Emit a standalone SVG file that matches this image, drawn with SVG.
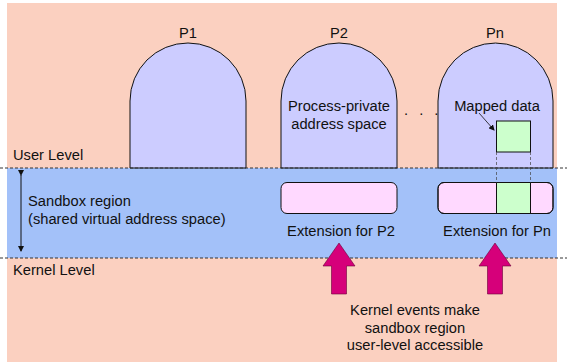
<svg xmlns="http://www.w3.org/2000/svg" width="567" height="364" viewBox="0 0 567 364">
<style>
text{font-family:"Liberation Sans",Arial,sans-serif;font-size:14.7px;fill:#111}
.dome{fill:#ccccff;stroke:#111;stroke-width:1}
.ext{fill:#ffd9ff;stroke:#111;stroke-width:1}
.grn{fill:#ccffcc;stroke:#111;stroke-width:1}
.dash{stroke:#333;stroke-width:1;stroke-dasharray:3,2;fill:none}
.thin{stroke:#444;stroke-width:0.7;stroke-dasharray:3,2;fill:none}
.big{fill:#d6007a;stroke:#6a0038;stroke-width:0.6}
</style>
<defs>
<marker id="ah" markerWidth="6" markerHeight="6" refX="5" refY="3" orient="auto" markerUnits="userSpaceOnUse"><path d="M0,0 L6,3 L0,6 z" fill="#111"/></marker>
</defs>
<rect x="7" y="3" width="550" height="359" fill="#fbd0c0"/>
<rect x="7" y="168" width="550" height="90" fill="#a3c1f9"/>
<text x="13" y="160">User Level</text>
<text x="13" y="275">Kernel Level</text>
<text x="28" y="206">Sandbox region</text>
<text x="28" y="224">(shared virtual address space)</text>
<g id="p1"><path class="dome" d="M130,168 V101 A58,58 0 0 1 246,101 V168 Z"/><text x="188" y="38" text-anchor="middle">P1</text></g>
<g id="p2"><path class="dome" d="M281,168 V101 A58,58 0 0 1 397,101 V168 Z"/><text x="339" y="38" text-anchor="middle">P2</text>
<text x="339" y="111" text-anchor="middle">Process-private</text><text x="339" y="129" text-anchor="middle">address space</text></g>
<text x="404" y="115" letter-spacing="3.5">. . .</text>
<g id="pn"><path class="dome" d="M438,168 V101 A57.5,58 0 0 1 553,101 V168 Z"/><text x="495" y="38" text-anchor="middle">Pn</text>
<text x="497" y="111" text-anchor="middle">Mapped data</text></g>
<g id="mapped"><rect class="grn" x="496.5" y="121" width="34" height="31"/></g>
<g id="ext2"><rect class="ext" x="281" y="182.5" width="116" height="31" rx="6"/><text x="341" y="236" text-anchor="middle">Extension for P2</text></g>
<g id="extn"><rect class="ext" x="438" y="182.5" width="115" height="31" rx="6"/><rect x="496.5" y="182.5" width="34" height="31" fill="#ccffcc" stroke="#111"/><rect x="438" y="182.5" width="115" height="31" rx="6" fill="none" stroke="#111"/><text x="497" y="236" text-anchor="middle">Extension for Pn</text></g>
<g id="connectors">
<line class="dash" x1="0" y1="168" x2="567" y2="168"/>
<line class="dash" x1="0" y1="258" x2="567" y2="258"/>
<line class="thin" x1="496.5" y1="152" x2="496.5" y2="182.5"/>
<line class="thin" x1="530.5" y1="152" x2="530.5" y2="182.5"/>
<line x1="21" y1="175" x2="21" y2="251" stroke="#111" stroke-width="1" marker-start="url(#ah)" marker-end="url(#ah)"/>
<line x1="479" y1="113" x2="494" y2="130" stroke="#111" stroke-width="0.8" marker-end="url(#ah)"/>
<path class="big" d="M339,243 L355,266 L346.5,266 L346.5,294 L331.5,294 L331.5,266 L323,266 Z"/>
<path class="big" d="M495,243 L511,266 L502.5,266 L502.5,294 L487.5,294 L487.5,266 L479,266 Z"/>
</g>
<g id="kernel-note">
<text x="415" y="315" text-anchor="middle">Kernel events make</text>
<text x="415" y="333" text-anchor="middle">sandbox region</text>
<text x="415" y="350" text-anchor="middle">user-level accessible</text>
</g>
</svg>
